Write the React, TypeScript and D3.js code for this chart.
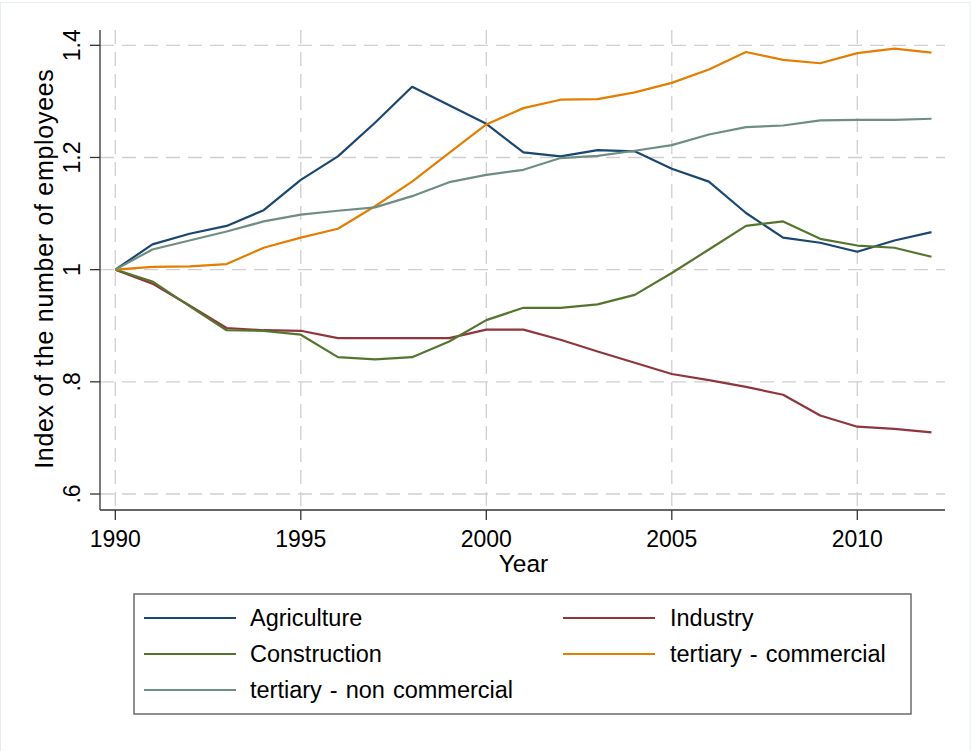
import React from "react";
import * as d3 from "d3";

const years = d3.range(1990, 2013);
const agriculture = [1.0, 1.045, 1.064, 1.078, 1.106, 1.16, 1.202, 1.262, 1.326, 1.293, 1.26, 1.209, 1.202, 1.213, 1.211, 1.18, 1.157, 1.101, 1.057, 1.048, 1.032, 1.052, 1.067];
const industry = [1.0, 0.975, 0.936, 0.896, 0.892, 0.891, 0.878, 0.878, 0.878, 0.878, 0.893, 0.893, 0.875, 0.854, 0.834, 0.814, 0.803, 0.791, 0.777, 0.74, 0.72, 0.716, 0.71];
const construction = [1.0, 0.979, 0.935, 0.892, 0.891, 0.884, 0.844, 0.84, 0.844, 0.872, 0.91, 0.932, 0.932, 0.938, 0.955, 0.994, 1.036, 1.078, 1.086, 1.055, 1.043, 1.039, 1.023];
const tertCommercial = [1.0, 1.005, 1.006, 1.01, 1.039, 1.057, 1.073, 1.113, 1.157, 1.208, 1.259, 1.288, 1.303, 1.304, 1.316, 1.333, 1.357, 1.388, 1.374, 1.368, 1.386, 1.394, 1.387];
const tertNonCommercial = [1.0, 1.036, 1.052, 1.068, 1.086, 1.098, 1.105, 1.111, 1.131, 1.156, 1.169, 1.178, 1.199, 1.203, 1.212, 1.222, 1.241, 1.254, 1.257, 1.266, 1.267, 1.267, 1.269];

const seriesNames = ["Agriculture", "Industry", "Construction", "tertiary - commercial", "tertiary - non commercial"];
const seriesColors = ["#1a476f", "#90353b", "#55752f", "#e37e00", "#6e8e84"];
const seriesValues = [agriculture, industry, construction, tertCommercial, tertNonCommercial];

const xTicks = [1990, 1995, 2000, 2005, 2010];
const yTicks = [0.6, 0.8, 1.0, 1.2, 1.4];
const yTickLabels = [".6", ".8", "1", "1.2", "1.4"];

const FONT = "'Liberation Sans', Arial, Helvetica, sans-serif";

export default function App() {
  const W = 971, H = 751;
  const x = d3.scaleLinear().domain([1990, 2012]).range([115.3, 931.5]);
  const y = d3.scaleLinear().domain([0.6, 1.4]).range([494, 45.3]);
  const axisLeft = 100, axisBottom = 510, axisRight = 945, axisTop = 30;

  const line = d3.line<number>().x((_, i) => x(years[i])).y((d) => y(d));

  const legendItems = seriesNames.map((n, i) => ({ name: n, color: seriesColors[i], col: i % 2, row: Math.floor(i / 2) }));
  const colLineX = [144, 563];
  const colTextX = [250, 670];
  const rowY = [618, 654, 690];

  return (
    <svg width={W} height={H} style={{ position: "absolute", left: 0, top: 0, background: "#fff" }} fontFamily={FONT}>
      <rect x={0} y={0} width={W} height={H} fill="#fff" />
      <rect x={0.5} y={2.5} width={969.5} height={760} fill="none" stroke="#e8eef0" strokeWidth={1} />

      {yTicks.map((t) => (
        <line key={"gy" + t} x1={axisLeft} x2={axisRight} y1={y(t)} y2={y(t)} stroke="#cfcfcf" strokeWidth={1.3} strokeDasharray="14 8" />
      ))}
      {xTicks.map((t) => (
        <line key={"gx" + t} x1={x(t)} x2={x(t)} y1={axisTop} y2={axisBottom} stroke="#cfcfcf" strokeWidth={1.3} strokeDasharray="14 8" />
      ))}

      {seriesValues.map((vals, i) => (
        <path key={seriesNames[i]} d={line(vals) || ""} fill="none" stroke={seriesColors[i]} strokeWidth={2.2} strokeLinejoin="round" />
      ))}

      <line x1={axisLeft} x2={axisLeft} y1={axisTop} y2={axisBottom} stroke="#333" strokeWidth={1.3} />
      <line x1={axisLeft} x2={axisRight} y1={axisBottom} y2={axisBottom} stroke="#333" strokeWidth={1.3} />
      {yTicks.map((t, i) => (
        <g key={"yt" + t}>
          <line x1={axisLeft - 10} x2={axisLeft} y1={y(t)} y2={y(t)} stroke="#333" strokeWidth={1.3} />
          <text transform={`translate(80,${y(t)}) rotate(-90)`} textAnchor="middle" fontSize={23} fill="#000">
            {yTickLabels[i]}
          </text>
        </g>
      ))}
      {xTicks.map((t) => (
        <g key={"xt" + t}>
          <line x1={x(t)} x2={x(t)} y1={axisBottom} y2={axisBottom + 10} stroke="#333" strokeWidth={1.3} />
          <text x={x(t)} y={547} textAnchor="middle" fontSize={23} fill="#000">
            {t}
          </text>
        </g>
      ))}
      <text x={523.5} y={572} textAnchor="middle" fontSize={24.5} fill="#000">Year</text>
      <text transform={`translate(53,${(y(0.6) + y(1.4)) / 2 - 1}) rotate(-90)`} textAnchor="middle" fontSize={25} letterSpacing={0.7} fill="#000">
        Index of the number of employees
      </text>

      <rect x={134} y={594} width={777} height={120} fill="#fff" stroke="#555" strokeWidth={1.3} />
      {legendItems.map((it) => (
        <g key={"lg" + it.name}>
          <line x1={colLineX[it.col]} x2={colLineX[it.col] + 92} y1={rowY[it.row]} y2={rowY[it.row]} stroke={it.color} strokeWidth={2.2} />
          <text x={colTextX[it.col]} y={rowY[it.row]} dy="0.36em" fontSize={23.5} wordSpacing={1.5} fill="#000">
            {it.name}
          </text>
        </g>
      ))}
    </svg>
  );
}
